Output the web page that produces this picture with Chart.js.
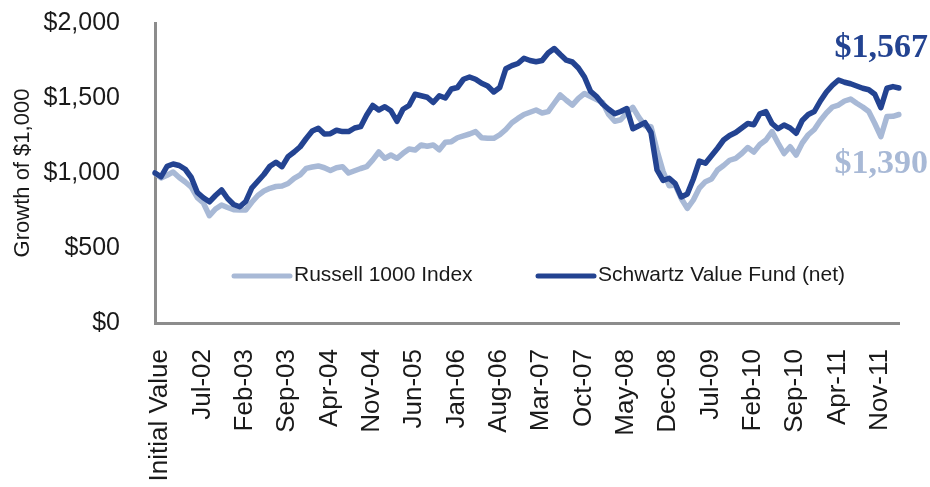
<!DOCTYPE html>
<html>
<head>
<meta charset="utf-8">
<script src="https://cdn.jsdelivr.net/npm/chart.js@4.4.1/dist/chart.umd.min.js"></script>
<style>
  html, body { margin: 0; padding: 0; background: #ffffff; }
  #growthChart { display: block; }
</style>
</head>
<body>
<canvas id="growthChart" width="930" height="487"></canvas>
<script>
// Growth of $1,000 - Schwartz Value Fund vs Russell 1000

const categories = [
  "Initial Value",
  "Jan-02", "Feb-02", "Mar-02", "Apr-02", "May-02", "Jun-02", "Jul-02", "Aug-02", "Sep-02", "Oct-02", "Nov-02", "Dec-02",
  "Jan-03", "Feb-03", "Mar-03", "Apr-03", "May-03", "Jun-03", "Jul-03", "Aug-03", "Sep-03", "Oct-03", "Nov-03", "Dec-03",
  "Jan-04", "Feb-04", "Mar-04", "Apr-04", "May-04", "Jun-04", "Jul-04", "Aug-04", "Sep-04", "Oct-04", "Nov-04", "Dec-04",
  "Jan-05", "Feb-05", "Mar-05", "Apr-05", "May-05", "Jun-05", "Jul-05", "Aug-05", "Sep-05", "Oct-05", "Nov-05", "Dec-05",
  "Jan-06", "Feb-06", "Mar-06", "Apr-06", "May-06", "Jun-06", "Jul-06", "Aug-06", "Sep-06", "Oct-06", "Nov-06", "Dec-06",
  "Jan-07", "Feb-07", "Mar-07", "Apr-07", "May-07", "Jun-07", "Jul-07", "Aug-07", "Sep-07", "Oct-07", "Nov-07", "Dec-07",
  "Jan-08", "Feb-08", "Mar-08", "Apr-08", "May-08", "Jun-08", "Jul-08", "Aug-08", "Sep-08", "Oct-08", "Nov-08", "Dec-08",
  "Jan-09", "Feb-09", "Mar-09", "Apr-09", "May-09", "Jun-09", "Jul-09", "Aug-09", "Sep-09", "Oct-09", "Nov-09", "Dec-09",
  "Jan-10", "Feb-10", "Mar-10", "Apr-10", "May-10", "Jun-10", "Jul-10", "Aug-10", "Sep-10", "Oct-10", "Nov-10", "Dec-10",
  "Jan-11", "Feb-11", "Mar-11", "Apr-11", "May-11", "Jun-11", "Jul-11", "Aug-11", "Sep-11", "Oct-11", "Nov-11", "Dec-11",
  "Jan-12", "Feb-12", "Mar-12"
]

const russell1000 = [
  1000,
  967, 985, 1007, 970, 940, 905, 835, 800, 715, 760, 787, 770,
  755, 753, 753, 805, 850, 880, 898, 910, 913, 930, 964, 987,
  1031, 1040, 1047, 1035, 1016, 1035, 1042, 1000, 1015, 1030, 1042, 1087,
  1140, 1098, 1120, 1098, 1131, 1160, 1153, 1187, 1178, 1187, 1155, 1205,
  1209, 1235, 1248, 1260, 1276, 1235, 1231, 1231, 1255, 1290, 1335, 1364,
  1390, 1405, 1420, 1400, 1409, 1465, 1520, 1485, 1453, 1498, 1530, 1510,
  1490, 1470, 1390, 1345, 1355, 1400, 1438, 1370, 1315, 1309, 1150, 1010,
  915, 920, 830, 764, 820, 900, 942, 960, 1020, 1050, 1085, 1098,
  1130, 1170, 1140, 1190, 1220, 1276, 1200, 1130, 1175, 1120, 1200, 1255,
  1290, 1350, 1400, 1440, 1453, 1480, 1493, 1465, 1440, 1410, 1330, 1242,
  1376, 1378, 1390
]

const schwartzFund = [
  1000,
  975, 1045, 1060, 1050, 1025, 970, 870, 835, 808, 850, 887, 830,
  790, 775, 810, 900, 945, 990, 1045, 1072, 1042, 1109, 1140, 1175,
  1230, 1280, 1298, 1260, 1262, 1285, 1276, 1276, 1300, 1309, 1387, 1450,
  1420, 1442, 1415, 1345, 1425, 1450, 1525, 1515, 1505, 1470, 1515, 1500,
  1560, 1570, 1625, 1640, 1625, 1598, 1580, 1540, 1570, 1695, 1716, 1730,
  1765, 1750, 1742, 1750, 1800, 1830, 1790, 1752, 1740, 1700, 1640, 1545,
  1510, 1460, 1425, 1395, 1410, 1430, 1295, 1315, 1336, 1270, 1020, 950,
  965, 930, 840, 860, 960, 1080, 1065, 1115, 1165, 1220, 1250, 1270,
  1300, 1330, 1322, 1395, 1409, 1330, 1295, 1320, 1300, 1265, 1350, 1390,
  1410, 1480, 1540, 1585, 1620, 1605, 1595, 1580, 1565, 1555, 1525, 1435,
  1565, 1576, 1567
]

const yTicks = [0, 500, 1000, 1500, 2000]

const sansFont = "'Liberation Sans', Arial, sans-serif"
const darkBlue = "#234391"
const lightBlue = "#a8b9d6"
const axisGray = "#8c8c8c"

const money = (v) => "$" + Number(v).toLocaleString("en-US")

// legend drawn inside the plot, above the x axis
const insideLegend = {
  id: "insideLegend",
  afterDraw(chart) {
    const { ctx, chartArea } = chart
    const y = chartArea.bottom - 48
    const starts = [chartArea.left + 79, chartArea.left + 383]
    chart.data.datasets.forEach((ds, i) => {
      const x = starts[i]
      ctx.save()
      ctx.strokeStyle = ds.borderColor
      ctx.lineWidth = 5
      ctx.lineCap = "round"
      ctx.beginPath()
      ctx.moveTo(x, y + 1)
      ctx.lineTo(x + 56, y + 1)
      ctx.stroke()
      ctx.fillStyle = "#1a1a1a"
      ctx.font = "21px " + sansFont
      ctx.textBaseline = "middle"
      ctx.textAlign = "left"
      ctx.fillText(ds.label, x + 60, y)
      ctx.restore()
    })
  },
}

// final values printed at the right end of each line
const endLabels = {
  id: "endLabels",
  afterDatasetsDraw(chart) {
    const { ctx } = chart
    const offsets = [50, -40]
    chart.data.datasets.forEach((ds, i) => {
      const meta = chart.getDatasetMeta(i)
      const pt = meta.data[meta.data.length - 1]
      ctx.save()
      ctx.fillStyle = ds.borderColor
      ctx.font = "bold 34px 'Liberation Serif', 'DejaVu Serif', serif"
      ctx.textAlign = "right"
      ctx.textBaseline = "middle"
      ctx.fillText(money(ds.data[ds.data.length - 1]), chart.width - 2, pt.y + offsets[i])
      ctx.restore()
    })
  },
}

const ctx = document.getElementById("growthChart")
new Chart(ctx, {
  type: "line",
  data: {
    labels: categories,
    datasets: [
      {
        label: "Russell 1000 Index",
        data: russell1000,
        borderColor: lightBlue,
        borderWidth: 5.5,
        pointRadius: 0,
        tension: 0,
        borderJoinStyle: "round",
        borderCapStyle: "round",
        order: 1,
      },
      {
        label: "Schwartz Value Fund (net)",
        data: schwartzFund,
        borderColor: darkBlue,
        borderWidth: 5.5,
        pointRadius: 0,
        tension: 0,
        borderJoinStyle: "round",
        borderCapStyle: "round",
        order: 0,
      },
    ],
  },
  options: {
    responsive: false,
    animation: false,
    layout: {
      padding: { top: 23, right: 31, left: 0, bottom: 0 },
    },
    plugins: {
      legend: { display: false },
      tooltip: { enabled: false },
    },
    scales: {
      x: {
        grid: { display: false, drawTicks: false },
        border: { display: true, color: axisGray, width: 3 },
        afterFit: (scale) => {
          scale.height = 164
          scale.paddingLeft = 0
          scale.paddingRight = 0
        },
        ticks: {
          autoSkip: false,
          maxRotation: 90,
          minRotation: 90,
          padding: 26,
          labelOffset: 5,
          color: "#1a1a1a",
          font: { family: sansFont, size: 26 },
          callback: function (value, index) {
            return index % 7 === 0 ? this.getLabelForValue(value) : ""
          },
        },
      },
      y: {
        min: 0,
        max: 2000,
        afterFit: (scale) => {
          scale.width = 155
          scale.paddingTop = 0
          scale.paddingBottom = 0
        },
        afterBuildTicks: (scale) => { scale.ticks = yTicks.map((v) => ({ value: v })) },
        grid: { display: false, drawTicks: false },
        border: { display: true, color: axisGray, width: 3 },
        title: {
          display: true,
          text: "Growth of $1,000",
          color: "#1a1a1a",
          font: { family: sansFont, size: 22 },
          padding: { top: 10, bottom: 0 },
        },
        ticks: {
          padding: 35,
          color: "#1a1a1a",
          font: { family: sansFont, size: 25 },
          callback: (value) => money(value),
        },
      },
    },
  },
  plugins: [insideLegend, endLabels],
})
</script>
</body>
</html>
